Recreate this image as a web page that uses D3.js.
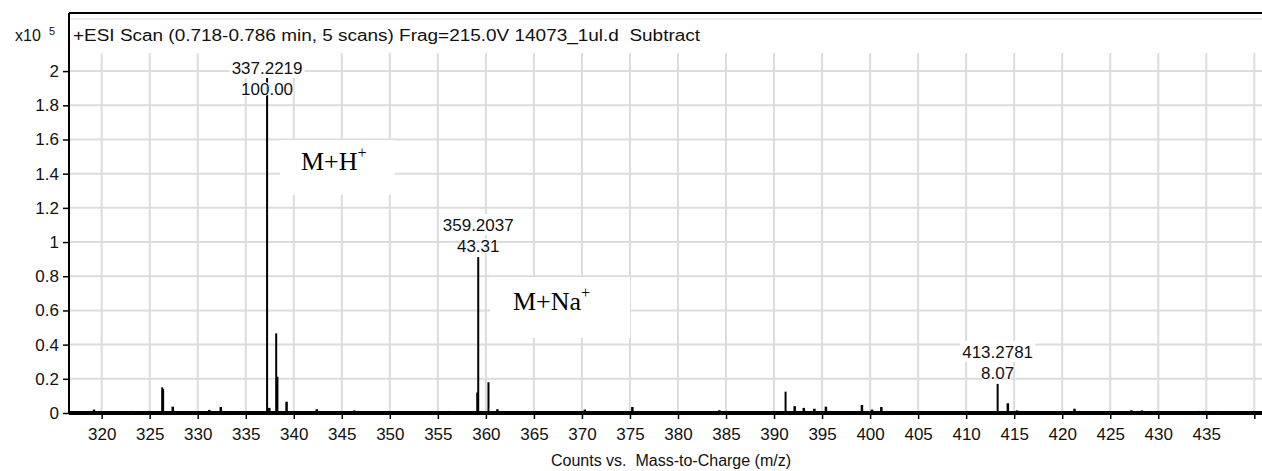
<!DOCTYPE html>
<html>
    <head>
        <script src="https://d3js.org/d3.v7.min.js"></script>
        <style>
            body { margin: 0; background: #fff; }
            text { font-family: "Liberation Sans", Arial, sans-serif; fill: #111; }
            text.ion { font-family: "Liberation Serif", "Times New Roman", serif; fill: #000; }
        </style>
    </head>
    <body>
        <svg height="471" width="1262" id="chart"></svg>
        <script>
            // peaks, m/z and counts (x10^5)
            const peakMz = [319.2, 321.3, 323.1, 325.0, 326.3, 326.4, 327.4, 329.1, 331.2, 332.4, 333.3,
                337.2219, 337.45, 338.17, 338.3, 339.25, 340.3, 342.4, 344.2, 346.3, 351.2, 354.3, 356.2,
                359.1, 359.2037, 360.27, 361.2, 363.2, 370.3, 373.2, 375.25, 380.3, 384.3, 389.2,
                391.2, 392.15, 393.1, 394.2, 395.4, 397.2, 399.15, 400.2, 401.17, 402.3, 403.3, 405.3,
                408.2, 413.2781, 414.34, 415.3, 418.3, 421.28, 424.3, 427.2, 428.3, 429.3, 434.2, 436.2, 438.3];
            const peakCounts = [0.02, 0.01, 0.012, 0.012, 0.15, 0.14, 0.037, 0.012, 0.018, 0.035, 0.012,
                2.106, 0.03, 0.466, 0.212, 0.066, 0.012, 0.022, 0.01, 0.015, 0.01, 0.012, 0.012,
                0.12, 0.912, 0.18, 0.022, 0.01, 0.02, 0.012, 0.035, 0.01, 0.016, 0.01,
                0.125, 0.04, 0.03, 0.025, 0.037, 0.012, 0.047, 0.02, 0.035, 0.012, 0.01, 0.012,
                0.01, 0.17, 0.057, 0.015, 0.01, 0.025, 0.01, 0.016, 0.015, 0.012, 0.012, 0.012, 0.01];

            // labelled peaks
            const labelMz = [337.2219, 359.2037, 413.2781];
            const labelCounts = [2.106, 0.912, 0.17];
            const labelPct = ["100.00", "43.31", "8.07"];

            const xTicks = d3.range(320, 445, 5);
            const xTickLabels = d3.range(320, 440, 5);
            const yTicks = [0, 0.2, 0.4, 0.6, 0.8, 1, 1.2, 1.4, 1.6, 1.8, 2];

            const headerText = "+ESI Scan (0.718-0.786 min, 5 scans) Frag=215.0V 14073_1ul.d  Subtract";
            const xTitle = "Counts vs.  Mass-to-Charge (m/z)";

            let svg = d3.select("#chart");
            let mLeft = 69, mRight = 1262, mTop = 13, mBottom = 413, gridTop = 53;

            let x = d3.scaleLinear().domain([316.6, 440.8]).range([mLeft, mRight]);
            let y = d3.scaleLinear().domain([0, 2.34]).range([mBottom, mTop]);

            // grid
            let grid = svg.append("g").attr("stroke", "#dcdcdc").attr("stroke-width", 2);
            grid.selectAll(".vg").data(xTicks).join("line")
                .attr("x1", d => x(d)).attr("x2", d => x(d))
                .attr("y1", gridTop).attr("y2", mBottom);
            grid.selectAll(".hg").data(yTicks.filter(d => d > 0)).join("line")
                .attr("x1", mLeft).attr("x2", mRight)
                .attr("y1", d => y(d)).attr("y2", d => y(d));
            svg.append("line").attr("x1", mLeft).attr("x2", mRight).attr("y1", 19).attr("y2", 19)
                .attr("stroke", "#ececec").attr("stroke-width", 2);

            // annotation boxes (white, covering grid)
            svg.append("rect").attr("x", 280).attr("y", 140).attr("width", 115).attr("height", 55).attr("fill", "#fff");
            svg.append("rect").attr("x", 490).attr("y", 277).attr("width", 140).attr("height", 61).attr("fill", "#fff");

            // peaks
            svg.append("g").selectAll("line").data(peakMz).join("line")
                .attr("x1", d => x(d)).attr("x2", d => x(d))
                .attr("y1", mBottom)
                .attr("y2", (d, i) => y(peakCounts[i]))
                .attr("stroke", "#000")
                .attr("stroke-width", (d, i) => peakCounts[i] > 0.1 ? 2 : 2.5);

            // axes
            let xAxis = d3.axisBottom(x).tickValues(xTicks).tickSize(6).tickFormat(d => xTickLabels.includes(d) ? d : "");
            let gx = svg.append("g").attr("transform", `translate(0,${mBottom})`).call(xAxis);
            gx.select(".domain").attr("stroke-width", 4).attr("d", `M${mLeft},0H${mRight}`);
            gx.selectAll(".tick line").attr("stroke-width", 1.5);
            gx.selectAll(".tick text").attr("font-size", 17).attr("dy", "1.05em").attr("font-family", null);

            let yAxis = d3.axisLeft(y).tickValues(yTicks).tickSize(6).tickFormat(d => d);
            let gy = svg.append("g").attr("transform", `translate(${mLeft},0)`).call(yAxis);
            gy.select(".domain").attr("stroke-width", 2).attr("d", `M0,${mTop}V${mBottom}`);
            gy.selectAll(".tick line").attr("stroke-width", 1.5);
            gy.selectAll(".tick text").attr("font-size", 17).attr("x", -10).attr("font-family", null);

            // top frame
            svg.append("line").attr("x1", mLeft).attr("x2", mRight).attr("y1", mTop).attr("y2", mTop)
                .attr("stroke", "#000").attr("stroke-width", 2);

            // peak labels, m/z line sits on a white box that hides what is under it
            let lab = svg.append("g").attr("text-anchor", "middle").attr("font-size", 17);
            labelMz.forEach((m, i) => {
                let ty = Math.max(y(labelCounts[i]), 100) - 5;
                let t = lab.append("text").attr("x", x(m)).attr("y", ty - 21).text(m.toFixed(4));
                let bb = t.node().getBBox();
                let boxTop = Math.min(bb.y - 2, y(labelCounts[i]));
                lab.insert("rect", "text").attr("x", bb.x - 2).attr("y", boxTop)
                    .attr("width", bb.width + 4).attr("height", bb.y + bb.height - boxTop).attr("fill", "#fff");
                lab.append("text").attr("x", x(m)).attr("y", ty)
                    .attr("stroke", "#fff").attr("stroke-width", 2).attr("paint-order", "stroke")
                    .text(labelPct[i]);
            });

            // header
            svg.append("text").attr("x", 73).attr("y", 41).attr("font-size", 16)
                .attr("textLength", 627).attr("lengthAdjust", "spacingAndGlyphs")
                .attr("xml:space", "preserve").text(headerText);
            svg.append("text").attr("x", 15).attr("y", 41).attr("font-size", 16).text("x10");
            svg.append("text").attr("x", 49).attr("y", 35).attr("font-size", 11).text("5");

            // x title
            svg.append("text").attr("x", 671).attr("y", 466).attr("text-anchor", "middle")
                .attr("font-size", 16).attr("xml:space", "preserve").text(xTitle);

            // ion annotations
            let t1 = svg.append("text").attr("class", "ion").attr("x", 301).attr("y", 170).attr("font-size", 26);
            t1.append("tspan").text("M+H");
            t1.append("tspan").attr("dy", -12).attr("font-size", 16).text("+");
            let t2 = svg.append("text").attr("class", "ion").attr("x", 513).attr("y", 310).attr("font-size", 26);
            t2.append("tspan").text("M+Na");
            t2.append("tspan").attr("dy", -12).attr("font-size", 16).text("+");
        </script>
    </body>
</html>
